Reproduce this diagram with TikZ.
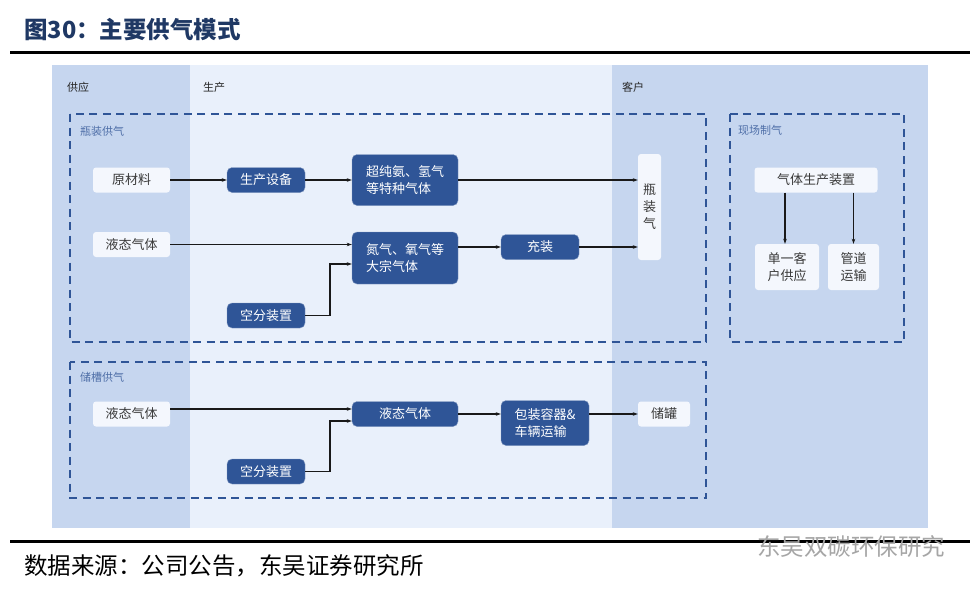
\documentclass[tikz,border=0pt]{standalone}
\usepackage{fontspec}
\setmainfont{Noto Sans CJK SC}
\usetikzlibrary{arrows.meta,calc}
\definecolor{deep}{HTML}{2F5597}
\definecolor{side}{HTML}{C6D6EF}
\definecolor{mid}{HTML}{E9F0FB}
\definecolor{pale}{HTML}{F4F7FD}
\definecolor{titleblue}{HTML}{1F3864}
\definecolor{grouplab}{HTML}{4F6FA8}
\definecolor{txt}{HTML}{3A3A3A}
\tikzset{
  dashbox/.style={draw=deep, line width=1.6pt, dash pattern=on 8pt off 5.5pt},
  lightbox/.style={fill=pale, rounded corners=3pt, text=txt, inner sep=0pt, font=\fontsize{13}{17}\selectfont},
  bluebox/.style={fill=deep, draw=deep!60!white, line width=0.4pt, rounded corners=5pt, text=white, inner sep=0pt, font=\fontsize{13}{17}\selectfont},
  colhead/.style={text=black!85, font=\fontsize{11}{13}\selectfont, anchor=west, inner sep=0pt},
  grouphead/.style={text=grouplab, font=\fontsize{11}{13}\selectfont, anchor=west, inner sep=0pt},
  arr/.style={-{Stealth[length=5pt,width=3.5pt]}, line width=1.1pt, black!90},
}
\begin{document}
\begin{tikzpicture}[x=1pt,y=-1pt]
\useasboundingbox (0,0) rectangle (980,589);
\fill[white] (0,0) rectangle (980,589);

% title and rules
\node[anchor=west, inner sep=0pt, text=titleblue, font=\fontsize{23.5}{26}\selectfont\bfseries] (title) at (24,30) {图30：主要供气模式};
\fill[black] (10,50.5) rectangle (970,53.5);
\fill[black] (10,539.5) rectangle (970,542.5);
\node[anchor=west, inner sep=0pt, text=black, font=\fontsize{23.5}{26}\selectfont] (src) at (24,566) {数据来源：公司公告，东吴证券研究所};
\node[anchor=west, inner sep=0pt, text=black!35, font=\fontsize{23.5}{26}\selectfont] (wm) at (757,547) {东吴双碳环保研究};

% background columns
\fill[side] (52,65) rectangle (190,528);
\fill[mid] (190,65) rectangle (612,528);
\fill[side] (612,65) rectangle (928,528);

\node[colhead] (hsupply) at (67,87) {供应};
\node[colhead] (hprod) at (203,87) {生产};
\node[colhead] (hcust) at (622,87) {客户};

% dashed groups
\draw[dashbox] (70,114) rectangle (706,342);
\draw[dashbox] (730,114) rectangle (904,342);
\draw[dashbox] (70,362) rectangle (706,498);
\node[grouphead] (g1) at (80,131) {瓶装供气};
\node[grouphead] (g2) at (738,130) {现场制气};
\node[grouphead] (g3) at (80,377) {储槽供气};

% bottled gas flow
\node[lightbox, minimum width=77pt, minimum height=25pt] (raw) at (131.5,180) {原材料};
\node[bluebox, minimum width=78pt, minimum height=25pt] (equip) at (266,180) {生产设备};
\node[bluebox, minimum width=106pt, minimum height=51pt, align=left] (special) at (405,180) {超纯氨、氢气\\等特种气体};
\node[lightbox, minimum width=23pt, minimum height=106pt, align=center, font=\fontsize{13}{17}\selectfont] (bottle) at (649.5,207) {瓶\\装\\气};
\node[lightbox, minimum width=77pt, minimum height=25pt] (liq1) at (131.5,244.5) {液态气体};
\node[bluebox, minimum width=106pt, minimum height=52pt, align=left] (bulk) at (405,258) {氮气、氧气等\\大宗气体};
\node[bluebox, minimum width=78pt, minimum height=25pt] (fill) at (540,247) {充装};
\node[bluebox, minimum width=78pt, minimum height=25pt] (asu1) at (266,315.5) {空分装置};

\draw[arr] (raw) -- (equip);
\draw[arr] (equip) -- (special);
\draw[arr] (special.east) -- (bottle.west |- special.east);
\draw[arr] (liq1.east) -- (bulk.west |- liq1.east);
\draw[arr] (asu1.east) -- (330,315.5) |- ([yshift=-6pt]bulk.west);
\draw[arr] (bulk.east |- fill) -- (fill.west);
\draw[arr] (fill.east) -- (bottle.west |- fill.east);

% on-site generation
\node[lightbox, minimum width=123pt, minimum height=25pt] (gen) at (816,180) {气体生产装置};
\node[lightbox, minimum width=64pt, minimum height=46pt, align=center] (single) at (787,267) {单一客\\户供应};
\node[lightbox, minimum width=51pt, minimum height=46pt, align=center] (pipe) at (853.5,267) {管道\\运输};
\draw[arr] (gen.south -| 785,0) -- (single.north -| 785,0);
\draw[arr] (gen.south -| pipe.north) -- (pipe.north);

% storage tank flow
\node[lightbox, minimum width=77pt, minimum height=25pt] (liq2) at (131.5,414) {液态气体};
\node[bluebox, minimum width=106pt, minimum height=25pt] (liqb) at (405,414) {液态气体};
\node[bluebox, minimum width=88pt, minimum height=45pt, align=left] (pack) at (545,423) {包装容器\&\\车辆运输};
\node[lightbox, minimum width=52pt, minimum height=25pt] (tank) at (664,414) {储罐};
\node[bluebox, minimum width=78pt, minimum height=25pt] (asu2) at (266,471.5) {空分装置};

\draw[arr] ([yshift=5pt]liq2.east) -- ([yshift=5pt]liqb.west);
\draw[arr] (asu2.east) -- (330,471.5) |- ([yshift=-7pt]liqb.west);
\draw[arr] (liqb.east) -- (pack.west |- liqb.east);
\draw[arr] (pack.east |- tank) -- (tank.west);
\end{tikzpicture}
\end{document}
